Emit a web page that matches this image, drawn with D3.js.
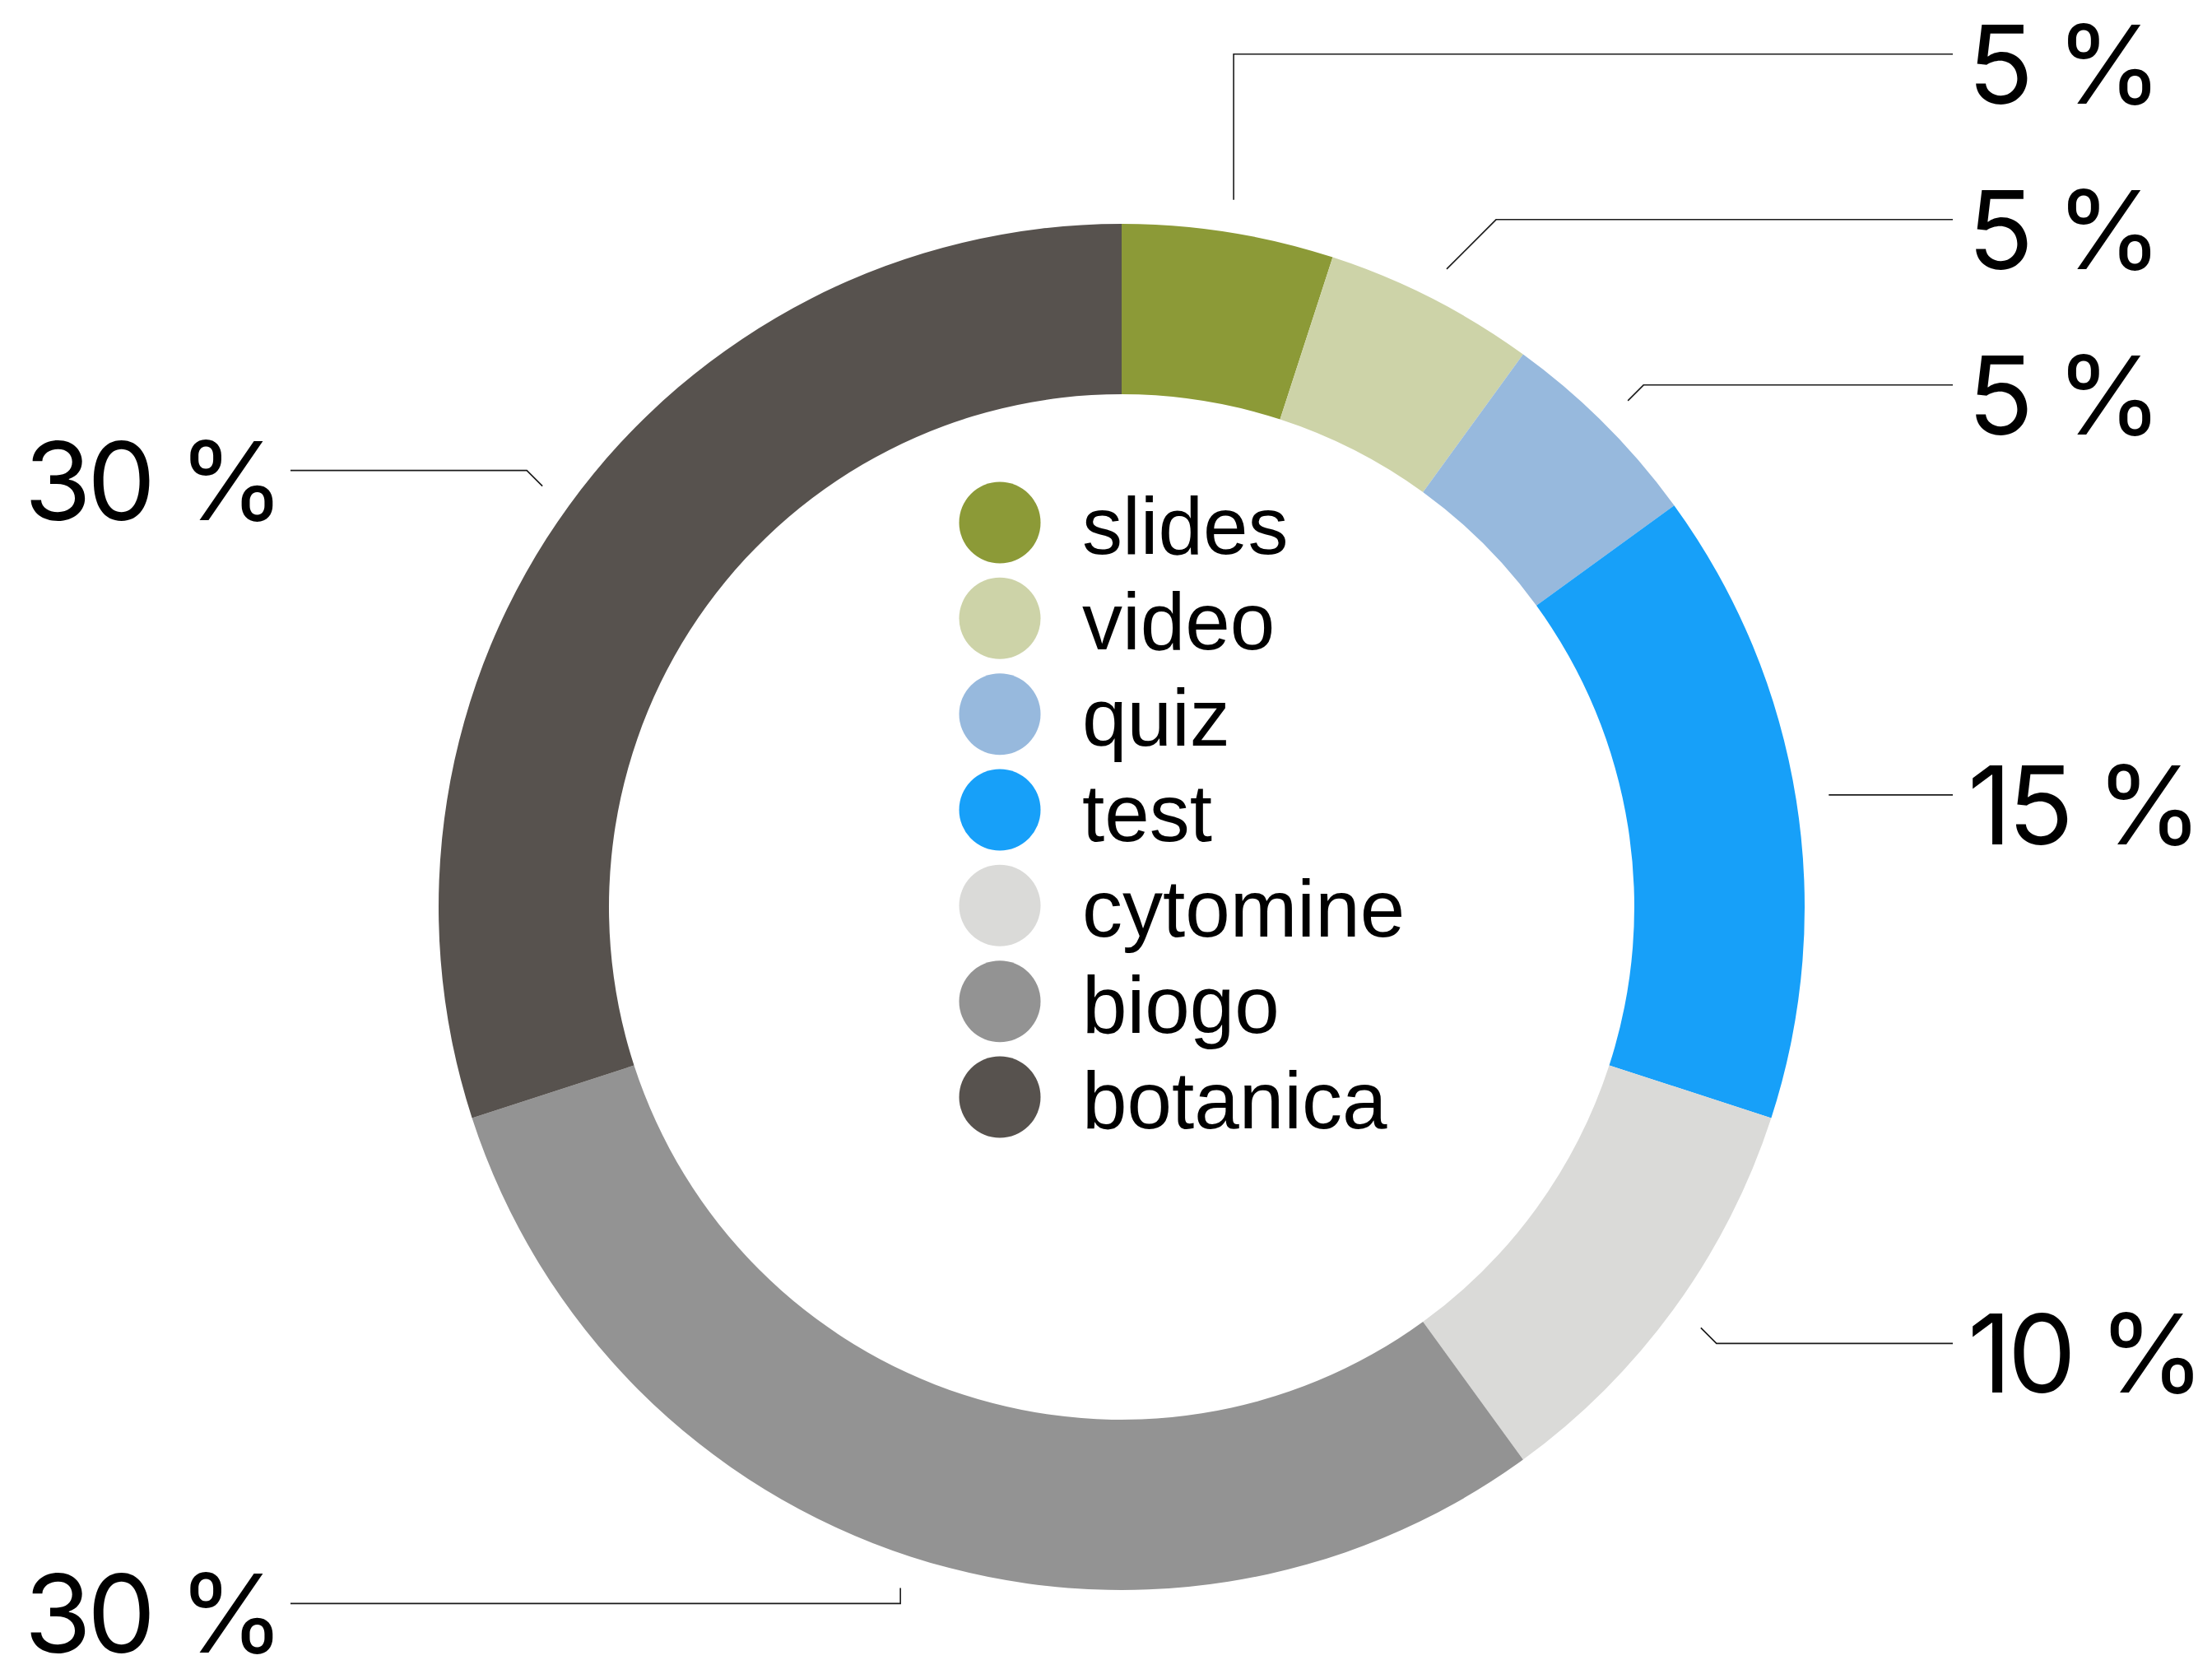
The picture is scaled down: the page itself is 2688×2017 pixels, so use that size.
<!DOCTYPE html>
<html>
<head>
<meta charset="utf-8">
<script src="https://cdn.jsdelivr.net/npm/d3@7"></script>
<style>
  html, body { margin: 0; padding: 0; background: #fff; }
  svg { display: block; }
  text { fill: #000; }
  .pct { font-family: Inter, "Liberation Sans", Arial, sans-serif; letter-spacing: -5px; }
  .legend-label { font-family: "Liberation Sans", Arial, Helvetica, sans-serif; }
</style>
</head>
<body>
<svg id="chart" width="2688" height="2017"></svg>
<script>
// Share of course activity by resource type (percent)
const categories = ["slides", "video", "quiz", "test", "cytomine", "biogo", "botanica"];
const shares = [5, 5, 5, 15, 10, 30, 30];
const colors = ["#8C9A37", "#CDD3A8", "#97B9DD", "#17A0F9", "#DADAD8", "#939393", "#57524E"];

const W = 2688, H = 2017;
const cx = 1363, cy = 1102;
const rOuter = 830, rInner = 623;
const rTick = 870;           // where leader lines start
const labelColumn = 1010;    // horizontal distance from centre to the end of each leader
const labelGap = 201;        // minimum vertical spacing between stacked labels
const labelFont = 132;
const legendFont = 98;

const svg = d3.select("#chart");
svg.append("rect").attr("width", W).attr("height", H).attr("fill", "#fff");

const data = categories.map((c, i) => ({ name: c, value: shares[i], color: colors[i] }));

const pie = d3.pie().sort(null).value(d => d.value).startAngle(0).endAngle(2 * Math.PI);
const arcs = pie(data);

const arc = d3.arc().innerRadius(rInner).outerRadius(rOuter);

const g = svg.append("g").attr("transform", `translate(${cx},${cy})`);

g.selectAll("path.slice")
  .data(arcs)
  .join("path")
  .attr("class", "slice")
  .attr("d", arc)
  .attr("fill", d => d.data.color);

// ---- outside labels with leader lines ----
const labels = arcs.map(a => {
  const mid = (a.startAngle + a.endAngle) / 2;
  const s = Math.sin(mid), c = Math.cos(mid);
  const x0 = rTick * s, y0 = -rTick * c;
  const side = s >= 0 ? 1 : -1;
  const natural = Math.abs(c) > 0.3 ? y0 - 19 * Math.sign(c) : y0;
  return { a, mid, s, c, x0, y0, side, y: natural };
});

// stack labels on each side, pushing upward from the lowest one
[1, -1].forEach(side => {
  const list = labels.filter(l => l.side === side).sort((p, q) => q.y - p.y);
  for (let i = 1; i < list.length; i++) {
    if (list[i - 1].y - list[i].y < labelGap) list[i].y = list[i - 1].y - labelGap;
  }
});

const lineGen = d3.line();
labels.forEach(l => {
  const dy = Math.abs(l.y - l.y0);
  const ex = Math.abs(l.s) < 0.4 ? l.x0 : l.x0 + l.side * dy;
  const endX = l.side * labelColumn;
  l.points = [[l.x0, l.y0], [ex, l.y], [endX, l.y]];
  l.textX = endX + (l.side > 0 ? 18 : -12);
});

g.selectAll("path.leader")
  .data(labels)
  .join("path")
  .attr("class", "leader")
  .attr("d", l => lineGen(l.points))
  .attr("fill", "none")
  .attr("stroke", "#1a1a1a")
  .attr("stroke-width", 1.6);

g.selectAll("text.pct")
  .data(labels)
  .join("text")
  .attr("class", "pct")
  .attr("x", l => l.textX)
  .attr("y", l => l.y + 60)
  .attr("text-anchor", l => l.side > 0 ? "start" : "end")
  .attr("font-size", labelFont)
  .text(l => `${l.a.data.value} %`);

// ---- legend in the donut hole ----
const legendY = d3.scalePoint().domain(categories).range([635, 1333]);
const legend = svg.append("g");
const items = legend.selectAll("g.item")
  .data(data)
  .join("g")
  .attr("class", "item")
  .attr("transform", d => `translate(1215,${legendY(d.name)})`);

items.append("circle")
  .attr("r", 49.5)
  .attr("fill", d => d.color);

items.append("text")
  .attr("class", "legend-label")
  .attr("x", 100)
  .attr("y", 38)
  .attr("font-size", legendFont)
  .text(d => d.name);
</script>
</body>
</html>
